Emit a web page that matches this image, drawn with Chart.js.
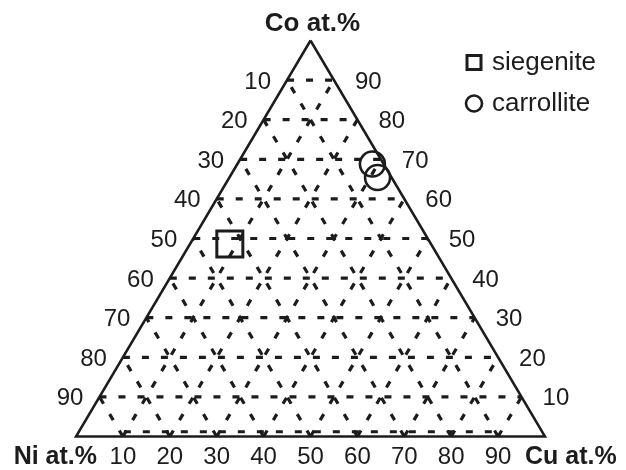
<!DOCTYPE html>
<html>
<head>
<meta charset="utf-8">
<script src="https://cdn.jsdelivr.net/npm/chart.js@4.4.1/dist/chart.umd.min.js"></script>
<style>
  html, body { margin: 0; padding: 0; background: #ffffff; }
  canvas { display: block; }
</style>
</head>
<body>
<canvas id="c" width="626" height="470"></canvas>
<script>
// Ternary Co–Ni–Cu composition diagram (at.%)
const components = ['Co', 'Ni', 'Cu'];
const axisTitles = ['Co at.%', 'Ni at.%', 'Cu at.%'];
const gridLevels = [10, 20, 30, 40, 50, 60, 70, 80, 90];
const leftTickLabels = ['10', '20', '30', '40', '50', '60', '70', '80', '90'];   // Ni, top to bottom
const rightTickLabels = ['90', '80', '70', '60', '50', '40', '30', '20', '10'];  // Co, top to bottom
const bottomTickLabels = ['10', '20', '30', '40', '50', '60', '70', '80', '90']; // Cu, left to right

// Mineral analyses (at.%)
const siegeniteCo = [48.6];
const siegeniteNi = [42.9];
const siegeniteCu = [8.5];
const carrolliteCo = [68.8, 65.4];
const carrolliteNi = [2.4, 3.0];
const carrolliteCu = [28.8, 31.6];

// Ternary -> cartesian: x runs Ni(0)..Cu(1) along the base, y is the Co fraction
function toXY(co, ni, cu) {
  const s = co + ni + cu;
  const c = co / s, u = cu / s;
  return { x: u + c / 2, y: c };
}

const INK = '#1c1c1c';
const gridDatasets = [];
gridLevels.forEach(k => {
  const f = k, g = 100 - k;
  // constant Co
  gridDatasets.push([toXY(f, g, 0), toXY(f, 0, g)]);
  // constant Cu
  gridDatasets.push([toXY(0, g, f), toXY(g, 0, f)]);
  // constant Ni
  gridDatasets.push([toXY(0, f, g), toXY(g, f, 0)]);
});
// dashed rule running just inside the base, between the 10 and 90 Cu ticks
gridDatasets.push([toXY(1.2, 89.2, 9.6), toXY(1.2, 9.2, 89.6)]);

const datasets = gridDatasets.map(pts => ({
  type: 'line',
  data: pts,
  borderColor: INK,
  borderWidth: 3.2,
  borderDash: [7, 12],
  pointRadius: 0,
  fill: false,
  clip: false,
  order: 3
}));

datasets.push({
  type: 'line',
  label: 'frame',
  data: [toXY(100, 0, 0), toXY(0, 0, 100), toXY(0, 100, 0), toXY(100, 0, 0)],
  borderColor: INK,
  borderWidth: 2.5,
  pointRadius: 0,
  fill: false,
  clip: false,
  order: 2
});

const siegenitePoints = siegeniteCo.map((v, i) => toXY(v, siegeniteNi[i], siegeniteCu[i]));
const carrollitePoints = carrolliteCo.map((v, i) => toXY(v, carrolliteNi[i], carrolliteCu[i]));

datasets.push({
  type: 'scatter',
  label: 'siegenite',
  data: siegenitePoints,
  pointStyle: 'rect',
  pointRadius: 18.4,
  pointBorderWidth: 3,
  pointBorderColor: INK,
  pointBackgroundColor: 'rgba(0,0,0,0)',
  clip: false,
  order: 1
});
datasets.push({
  type: 'scatter',
  label: 'carrollite',
  data: carrollitePoints,
  pointStyle: 'circle',
  pointRadius: 12.5,
  pointBorderWidth: 2.6,
  pointBorderColor: INK,
  pointBackgroundColor: 'rgba(0,0,0,0)',
  clip: false,
  order: 1
});

const FONT = '"Liberation Sans", Arial, Helvetica, sans-serif';

const ternaryText = {
  id: 'ternaryText',
  afterDatasetsDraw(chart) {
    const { ctx, scales } = chart;
    const px = p => ({ x: scales.x.getPixelForValue(p.x), y: scales.y.getPixelForValue(p.y) });
    ctx.save();
    ctx.fillStyle = INK;
    ctx.font = '24px ' + FONT;
    ctx.textBaseline = 'alphabetic';

    // left edge: Ni
    ctx.textAlign = 'right';
    gridLevels.forEach((k, i) => {
      const p = px(toXY(100 - k, k, 0));
      ctx.fillText(leftTickLabels[i], p.x - 16, p.y + 8.5);
    });
    // right edge: Co
    ctx.textAlign = 'left';
    gridLevels.forEach((k, i) => {
      const p = px(toXY(100 - k, 0, k));
      ctx.fillText(rightTickLabels[i], p.x + 21, p.y + 8.5);
    });
    // base: Cu
    ctx.textAlign = 'center';
    gridLevels.forEach((k, i) => {
      const p = px(toXY(0, 100 - k, k));
      ctx.fillText(bottomTickLabels[i], p.x, p.y + 27.5);
    });

    // corner titles
    ctx.font = 'bold 26px ' + FONT;
    const top = px(toXY(100, 0, 0));
    ctx.textAlign = 'center';
    ctx.fillText(axisTitles[0], top.x + 2, top.y - 10);
    ctx.font = 'bold 25px ' + FONT;
    const left = px(toXY(0, 100, 0));
    ctx.textAlign = 'right';
    ctx.fillText(axisTitles[1], left.x + 21, left.y + 27.5);
    const right = px(toXY(0, 0, 100));
    ctx.textAlign = 'left';
    ctx.fillText(axisTitles[2], right.x - 20, right.y + 27.5);

    // legend
    ctx.font = '26px ' + FONT;
    ctx.textAlign = 'left';
    const items = chart.data.datasets.filter(d => d.type === 'scatter');
    items.forEach((d, i) => {
      const cy = 62.5 + i * 41;
      const cx = 474;
      ctx.save();
      ctx.lineWidth = d.pointStyle === 'rect' ? 3 : 2.6;
      ctx.strokeStyle = INK;
      ctx.beginPath();
      if (d.pointStyle === 'rect') {
        ctx.rect(cx - 7, cy - 7, 14, 14);
      } else {
        ctx.arc(cx, cy, 8, 0, Math.PI * 2);
      }
      ctx.stroke();
      ctx.restore();
      ctx.fillText(d.label, cx + 18, cy + 7);
    });
    ctx.restore();
  }
};

new Chart(document.getElementById('c'), {
  data: { datasets },
  options: {
    responsive: false,
    animation: false,
    events: [],
    layout: { padding: 0, autoPadding: false },
    scales: {
      x: { type: 'linear', display: false, min: -76 / 469, max: 550 / 469 },
      y: { type: 'linear', display: false, min: -33.5 / 396, max: 436.5 / 396 }
    },
    plugins: {
      legend: { display: false },
      tooltip: { enabled: false },
      title: { display: false }
    }
  },
  plugins: [ternaryText]
});
</script>
</body>
</html>
